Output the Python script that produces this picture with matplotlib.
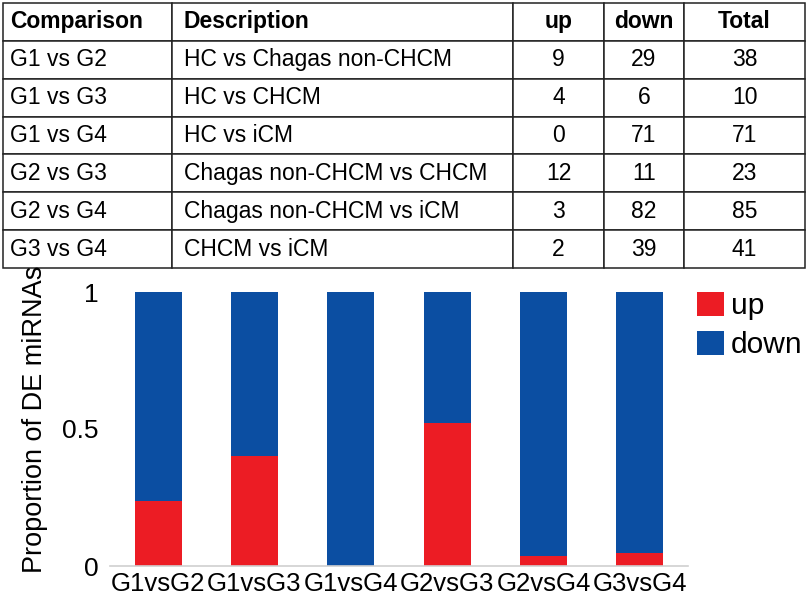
import matplotlib.pyplot as plt
import numpy as np

plt.rcParams['font.family'] = ['Liberation Sans', 'DejaVu Sans']

comparisons = ['G1 vs G2', 'G1 vs G3', 'G1 vs G4', 'G2 vs G3', 'G2 vs G4', 'G3 vs G4']
descriptions = ['HC vs Chagas non-CHCM', 'HC vs CHCM', 'HC vs iCM',
                'Chagas non-CHCM vs CHCM', 'Chagas non-CHCM vs iCM', 'CHCM vs iCM']
up = [9, 4, 0, 12, 3, 2]
down = [29, 6, 71, 11, 82, 39]
total = [38, 10, 71, 23, 85, 41]
bar_labels = ['G1vsG2', 'G1vsG3', 'G1vsG4', 'G2vsG3', 'G2vsG4', 'G3vsG4']
headers = ['Comparison', 'Description', 'up', 'down', 'Total']

red = '#ec1c24'
blue = '#0b4ea2'

fig = plt.figure(figsize=(8.1, 5.96), dpi=100)

# table on top
tax = fig.add_axes([3/810, (596-268)/596, 802/810, 265/596])
tax.axis('off')
rows = [[c, d, str(u), str(dn), str(t)] for c, d, u, dn, t in zip(comparisons, descriptions, up, down, total)]
col_w = np.array([169, 341, 91, 80, 121]) / 802
tbl = tax.table(cellText=rows, colLabels=headers, colWidths=col_w, bbox=[0, 0, 1, 1])
tbl.auto_set_font_size(False)
for (r, c), cell in tbl.get_celld().items():
    cell.set_linewidth(1.1)
    cell.set_edgecolor('#222222')
    txt = cell.get_text()
    txt.set_fontsize(16.5)
    if c < 2:
        cell.set_text_props(ha='left')
        cell.PAD = 0.042 if c == 0 else 0.035
    else:
        cell.set_text_props(ha='center')
    if r == 0:
        txt.set_fontweight('bold')

# stacked bar chart
ax = fig.add_axes([110/810, 30/596, 578/810, 274/596])
up_frac = np.array(up) / np.array(total)
down_frac = np.array(down) / np.array(total)
x = np.arange(len(bar_labels))
ax.bar(x, up_frac, width=0.49, color=red, label='up')
ax.bar(x, down_frac, width=0.49, bottom=up_frac, color=blue, label='down')
ax.set_xlim(-0.5, 5.5)
ax.set_ylim(0, 1)
ax.set_yticks([0, 0.5, 1])
ax.set_yticklabels(['0', '0.5', '1'])
ax.set_xticks(x)
ax.set_xticklabels(bar_labels)
ax.tick_params(axis='x', length=0, labelsize=18.5, pad=4)
ax.tick_params(axis='y', length=0, labelsize=19, pad=8)
for s in ['top', 'right', 'left']:
    ax.spines[s].set_visible(False)
ax.spines['bottom'].set_color('#d0d0d0')
ax.spines['bottom'].set_linewidth(1.2)
ax.set_ylabel('Proportion of DE miRNAs', fontsize=19.5)
ax.yaxis.set_label_coords(-0.107, 0.536)
ax.legend(loc='upper left', bbox_to_anchor=(0.984, 1.065), frameon=False, fontsize=21.5,
          handlelength=0.9, handleheight=0.85, handletextpad=0.25, labelspacing=0.35,
          borderaxespad=0.2)

fig.savefig('out.png', dpi=100)
